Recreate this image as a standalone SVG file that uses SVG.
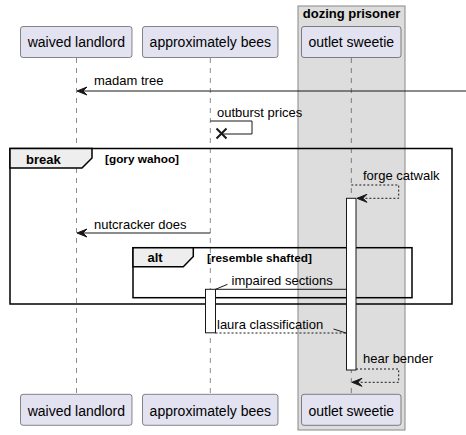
<svg xmlns="http://www.w3.org/2000/svg" width="466" height="435" viewBox="0 0 466 435">
<style>
text{font-family:"Liberation Sans",Arial,sans-serif;fill:#000}
.p rect{fill:#E2E2F0;stroke:#181818;stroke-width:0.5}
.p text{font-size:14px}
.life{stroke:#181818;stroke-width:0.5;stroke-dasharray:5,5}
.msg{font-size:13px}
.ln{stroke:#181818;stroke-width:1;fill:none}
.dl{stroke:#181818;stroke-width:1;fill:none;stroke-dasharray:2,2}
.ah{fill:#181818;stroke:#181818;stroke-width:1}
.fr{fill:none;stroke:#000;stroke-width:1.5}
.tab{fill:#EEEEEE;stroke:#000;stroke-width:1.5}
.act{fill:#fff;stroke:#181818;stroke-width:1}
.cond{font-size:11.8px;font-weight:bold}
</style>
<g id="box-dozing-prisoner">
<rect x="298" y="6" width="107" height="424" fill="#DDDDDD" stroke="#888" stroke-width="1"/>
<text x="351.5" y="18" font-size="13" font-weight="bold" text-anchor="middle">dozing prisoner</text>
</g>
<g id="lifelines">
<line class="life" x1="76.5" y1="58" x2="76.5" y2="394"/>
<line class="life" x1="210.3" y1="58" x2="210.3" y2="394"/>
<line class="life" x1="351.3" y1="58" x2="351.3" y2="394"/>
</g>
<g id="p-waived-landlord" class="p">
<rect x="20.5" y="26.5" width="111.5" height="31" rx="2.5"/>
<text x="76.3" y="47" text-anchor="middle">waived landlord</text>
<rect x="20.5" y="394.3" width="111.5" height="31" rx="2.5"/>
<text x="76.3" y="415.5" text-anchor="middle">waived landlord</text>
</g>
<g id="p-approximately-bees" class="p">
<rect x="142.5" y="26.5" width="135.5" height="31" rx="2.5"/>
<text x="210.3" y="47" text-anchor="middle">approximately bees</text>
<rect x="142.5" y="394.3" width="135.5" height="31" rx="2.5"/>
<text x="210.3" y="415.5" text-anchor="middle">approximately bees</text>
</g>
<g id="p-outlet-sweetie" class="p">
<rect x="301.5" y="26.5" width="99.5" height="31" rx="2.5"/>
<text x="351.3" y="47" text-anchor="middle">outlet sweetie</text>
<rect x="301.5" y="394.3" width="99.5" height="31" rx="2.5"/>
<text x="351.3" y="415.5" text-anchor="middle">outlet sweetie</text>
</g>
<g id="frame-break">
<rect class="fr" x="10" y="148.5" width="442" height="155.5"/>
<path class="tab" d="M10,148.5 H92 V158 L82,168 H10 Z"/>
<text x="26" y="164" font-size="13" font-weight="bold">break</text>
<text class="cond" x="105" y="163">[gory wahoo]</text>
</g>
<g id="frame-alt">
<rect class="fr" x="133" y="247.7" width="279" height="50"/>
<path class="tab" d="M133,247.7 H193.3 V256.5 L183.3,266.7 H133 Z"/>
<text x="147.5" y="262" font-size="13" font-weight="bold">alt</text>
<text class="cond" x="207" y="262">[resemble shafted]</text>
</g>
<g id="activations">
<rect class="act" x="346.5" y="198.3" width="9.5" height="171.7"/>
<rect class="act" x="205.5" y="289.3" width="10" height="43.5"/>
</g>
<g id="connectors">
<line class="ln" x1="466" y1="91" x2="78" y2="91"/>
<polygon class="ah" points="77,91 87,87 83,91 87,95"/>
<text class="msg" x="94" y="85">madam tree</text>

<polyline class="ln" points="210.3,121 252,121 252,134 222,134"/>
<path d="M216.5,128.5 L226.5,138.5 M216.5,138.5 L226.5,128.5" stroke="#181818" stroke-width="2"/>
<text class="msg" x="217" y="117">outburst prices</text>

<polyline class="dl" points="351.3,185 398.7,185 398.7,198.3 358,198.3"/>
<polygon class="ah" points="357,198.3 367,194.3 363,198.3 367,202.3"/>
<text class="msg" x="363" y="180">forge catwalk</text>

<line class="ln" x1="210.3" y1="233" x2="78" y2="233"/>
<polygon class="ah" points="77,233 87,229 83,233 87,237"/>
<text class="msg" x="94" y="228.5">nutcracker does</text>

<line class="ln" x1="346.5" y1="289.3" x2="215.5" y2="289.3"/>
<line class="ln" x1="215.5" y1="289.3" x2="227.5" y2="284.3"/>
<text class="msg" x="231.5" y="285">impaired sections</text>

<line class="dl" x1="215.5" y1="333" x2="346" y2="333"/>
<line class="ln" x1="346" y1="333" x2="333.5" y2="329"/>
<text class="msg" x="217" y="328.5">laura classification</text>

<polyline class="dl" points="356,369 398.7,369 398.7,382.3 353,382.3"/>
<polygon class="ah" points="352,382.3 362,378.3 358,382.3 362,386.3"/>
<text class="msg" x="363" y="363">hear bender</text>
</g>
</svg>
